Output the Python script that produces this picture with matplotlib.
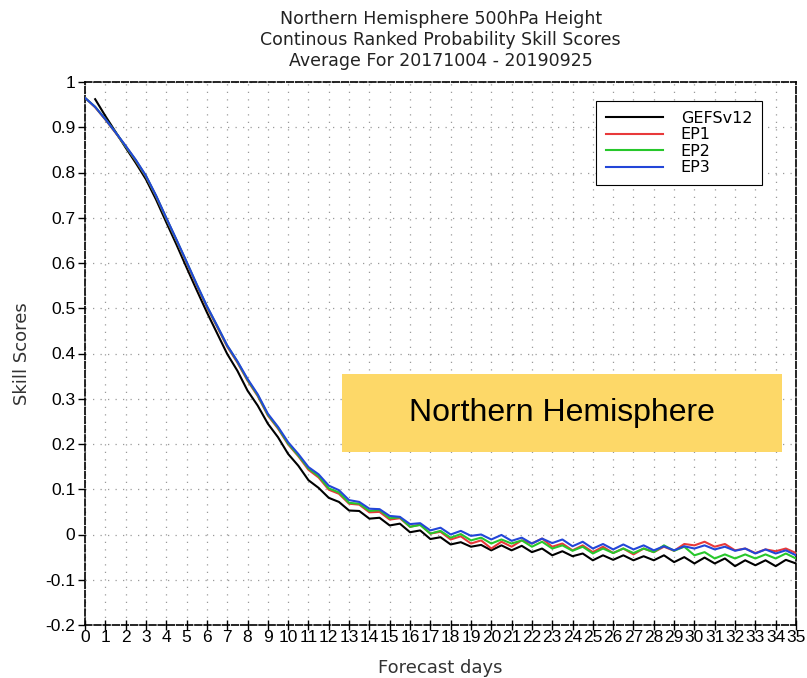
import numpy as np
import matplotlib
matplotlib.use("Agg")
import matplotlib.pyplot as plt
from matplotlib.patches import Rectangle

# forecast lead time (days), every 12 h
days = np.arange(0, 35.5, 0.5)

gefsv12 = [
    np.nan, 0.962, 0.925, 0.890, 0.855, 0.821, 0.785, 0.740, 0.690, 0.641,
    0.590, 0.540, 0.491, 0.445, 0.399, 0.362, 0.318, 0.285, 0.245, 0.215,
    0.178, 0.152, 0.120, 0.103, 0.081, 0.072, 0.053, 0.052, 0.035, 0.037,
    0.020, 0.024, 0.005, 0.009, -0.010, -0.006, -0.022, -0.017, -0.027, -0.023,
    -0.035, -0.024, -0.035, -0.025, -0.039, -0.031, -0.046, -0.037, -0.048, -0.042,
    -0.057, -0.046, -0.056, -0.046, -0.057, -0.048, -0.057, -0.046, -0.061, -0.050,
    -0.064, -0.051, -0.064, -0.053, -0.070, -0.057, -0.068, -0.057, -0.070, -0.056,
    -0.064,
]

ep1 = [
    0.965, 0.944, 0.917, 0.888, 0.858, 0.826, 0.791, 0.747, 0.698, 0.650,
    0.600, 0.550, 0.502, 0.459, 0.415, 0.380, 0.340, 0.306, 0.263, 0.234,
    0.199, 0.173, 0.143, 0.126, 0.099, 0.090, 0.068, 0.066, 0.049, 0.050,
    0.033, 0.036, 0.017, 0.022, 0.002, 0.006, -0.011, -0.004, -0.020, -0.013,
    -0.031, -0.016, -0.027, -0.013, -0.020, -0.009, -0.027, -0.020, -0.035, -0.024,
    -0.039, -0.027, -0.041, -0.031, -0.044, -0.031, -0.039, -0.027, -0.036, -0.021,
    -0.024, -0.016, -0.027, -0.021, -0.035, -0.031, -0.041, -0.033, -0.037, -0.031,
    -0.041,
]

ep2 = [
    0.965, 0.945, 0.918, 0.889, 0.858, 0.827, 0.792, 0.748, 0.699, 0.651,
    0.602, 0.552, 0.504, 0.461, 0.417, 0.382, 0.342, 0.308, 0.265, 0.236,
    0.201, 0.175, 0.146, 0.129, 0.102, 0.093, 0.070, 0.068, 0.052, 0.054,
    0.036, 0.038, 0.017, 0.021, 0.002, 0.008, -0.007, 0.001, -0.013, -0.007,
    -0.020, -0.011, -0.020, -0.013, -0.027, -0.016, -0.031, -0.024, -0.036, -0.027,
    -0.042, -0.031, -0.041, -0.031, -0.041, -0.031, -0.039, -0.024, -0.036, -0.027,
    -0.046, -0.039, -0.053, -0.044, -0.053, -0.044, -0.053, -0.044, -0.053, -0.042,
    -0.053,
]

ep3 = [
    0.965, 0.945, 0.918, 0.889, 0.859, 0.828, 0.793, 0.749, 0.700, 0.652,
    0.603, 0.553, 0.505, 0.462, 0.418, 0.383, 0.344, 0.310, 0.267, 0.238,
    0.204, 0.178, 0.149, 0.133, 0.108, 0.098, 0.076, 0.072, 0.057, 0.056,
    0.041, 0.039, 0.023, 0.025, 0.009, 0.015, 0.000, 0.008, -0.003, 0.000,
    -0.011, -0.001, -0.014, -0.007, -0.020, -0.009, -0.019, -0.011, -0.026, -0.016,
    -0.031, -0.021, -0.033, -0.022, -0.033, -0.024, -0.035, -0.026, -0.035, -0.026,
    -0.031, -0.024, -0.033, -0.027, -0.036, -0.031, -0.042, -0.033, -0.042, -0.035,
    -0.046,
]

series_names = ["GEFSv12", "EP1", "EP2", "EP3"]
series_colors = ["black", "#e8393a", "#27c72b", "#2346d8"]

x_ticks = list(range(0, 36))
y_ticks = [-0.2, -0.1, 0, 0.1, 0.2, 0.3, 0.4, 0.5, 0.6, 0.7, 0.8, 0.9, 1]
y_tick_labels = ["-0.2", "-0.1", "0", "0.1", "0.2", "0.3", "0.4", "0.5",
                 "0.6", "0.7", "0.8", "0.9", "1"]

title = ("Northern Hemisphere 500hPa Height\n"
         "Continous Ranked Probability Skill Scores\n"
         "Average For 20171004 - 20190925")

fig = plt.figure(figsize=(8.07, 6.78), dpi=100)
ax = fig.add_axes([85 / 807, 1 - 625 / 678, 711 / 807, 543 / 678])

for vals, name, col in zip([gefsv12, ep1, ep2, ep3], series_names, series_colors):
    ax.plot(days, vals, color=col, lw=1.5, label=name, zorder=3)

ax.set_xlim(0, 35)
ax.set_ylim(-0.2, 1)
ax.set_xticks(x_ticks)
ax.set_xticklabels([str(t) for t in x_ticks], fontsize=12.5,
                   fontfamily="Liberation Sans")
ax.set_yticks(y_ticks)
ax.set_yticklabels(y_tick_labels, fontsize=12.5, fontfamily="Liberation Sans")
ax.tick_params(axis="x", direction="inout", length=7, width=1, pad=0)
ax.tick_params(axis="y", direction="out", length=5, width=1, pad=2)

ax.grid(True, color="#9a9a9a", linestyle=(0, (1, 5)), linewidth=0.9)
for sp in ax.spines.values():
    sp.set_linestyle((0, (4, 1.5)))
    sp.set_linewidth(1.2)

ax.set_xlabel("Forecast days", fontsize=13, color="#333333", labelpad=10)
ax.set_ylabel("Skill Scores", fontsize=13, color="#333333", labelpad=10)

fig.text(0.546, 1 - 40 / 678, title, ha="center", va="center",
         fontsize=12.5, color="#222222", linespacing=1.2)

leg = ax.legend(loc="upper left", bbox_to_anchor=(0.719, 0.965),
                frameon=True, fancybox=False, edgecolor="black",
                framealpha=1, fontsize=11.5, handlelength=3.6,
                handletextpad=1.1, labelspacing=0.1, borderpad=0.6,
                borderaxespad=0)
leg.get_frame().set_linewidth(0.8)

fig.patches.append(Rectangle((342 / 807, 1 - 452 / 678), 440 / 807, 78 / 678,
                             transform=fig.transFigure, facecolor="#fdd868",
                             edgecolor="none", zorder=5))
fig.text((342 + 220) / 807, 1 - 413 / 678, "Northern Hemisphere",
         ha="center", va="center", fontsize=23, fontfamily="Liberation Sans",
         color="black", zorder=6)

fig.savefig("out.png", dpi=100)
